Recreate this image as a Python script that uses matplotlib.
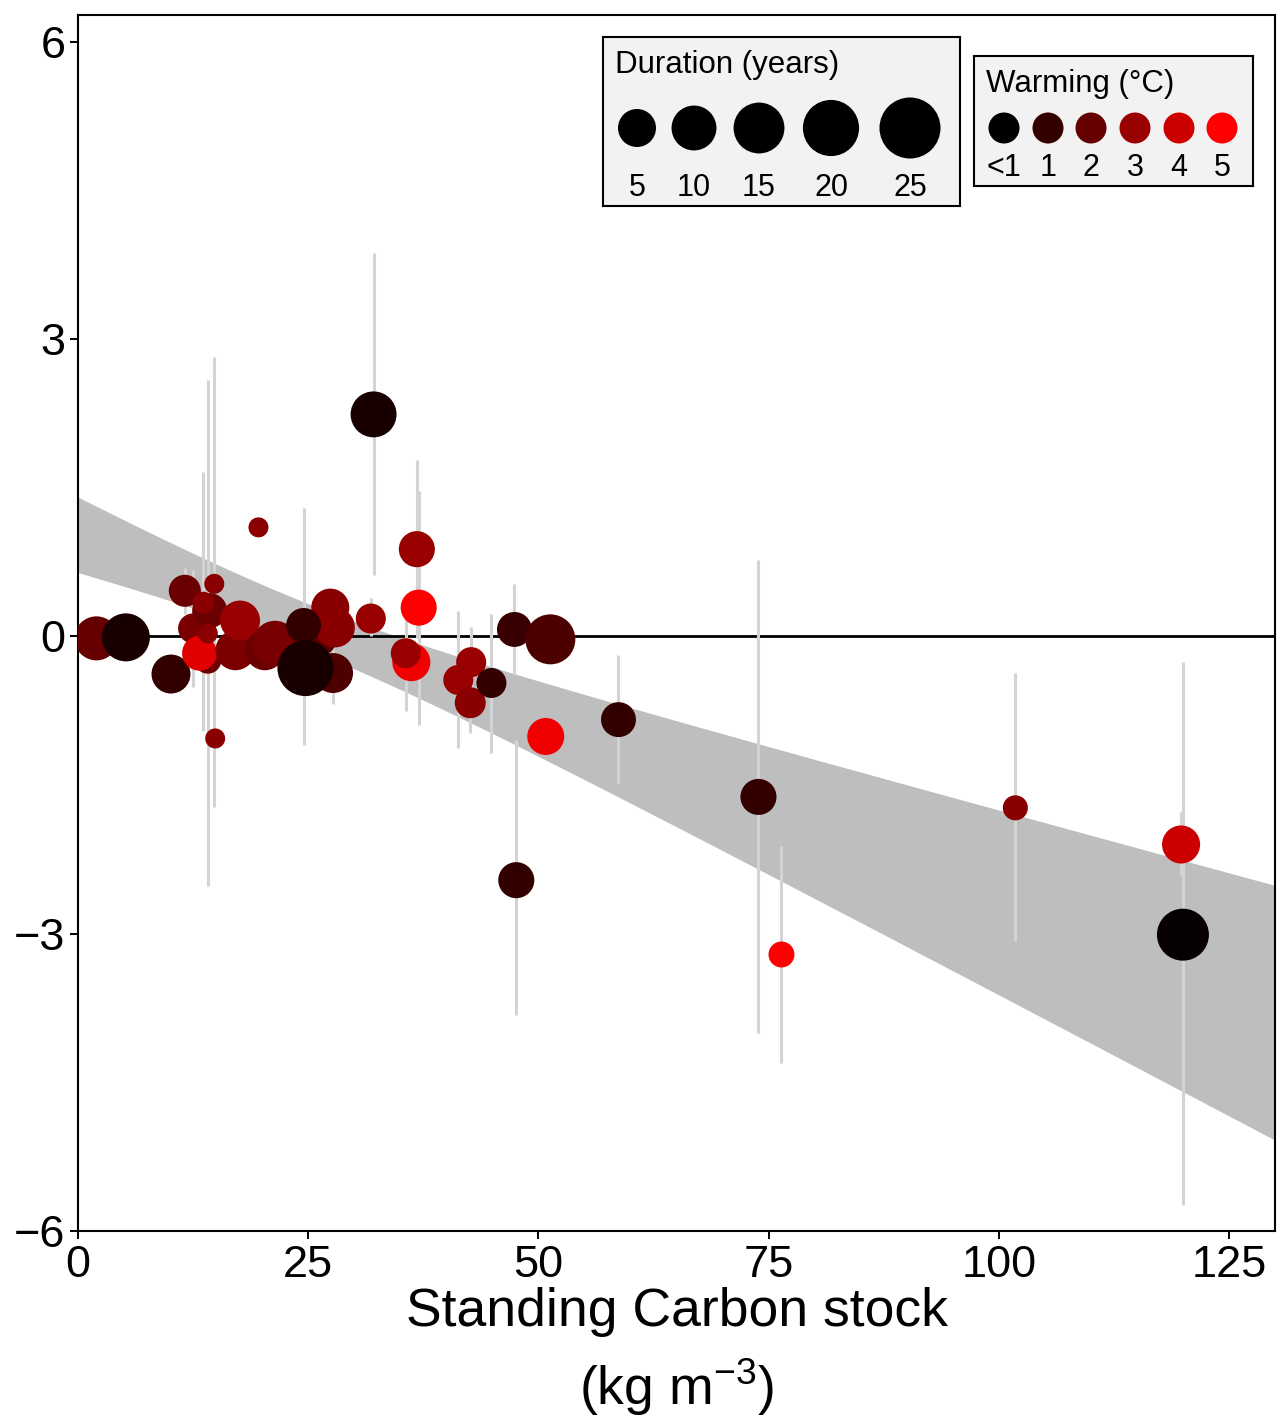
import numpy as np
import matplotlib
matplotlib.use("Agg")
import matplotlib.pyplot as plt
from matplotlib.colors import LinearSegmentedColormap, Normalize

plt.rcParams['font.family'] = ['Liberation Sans', 'DejaVu Sans']
plt.rcParams['mathtext.fontset'] = 'custom'
plt.rcParams['mathtext.rm'] = 'Liberation Sans'
plt.rcParams['mathtext.default'] = 'regular'

# data, in drawing order
carbon = [2.0, 5.2, 10.1, 11.6, 12.5, 14.1, 14.3, 13.2, 14.1, 13.6, 14.8,
          17.1, 17.6, 20.3, 21.4, 26.4, 27.4, 27.9, 27.7, 24.5, 24.7,
          31.8, 19.6, 14.9, 32.1, 36.8, 37.0, 36.2, 35.6, 42.7, 41.3,
          42.6, 44.9, 47.4, 51.3, 50.8, 58.7, 47.6, 73.9, 76.4, 101.8,
          119.8, 120.0]
effect = [-0.02, -0.01, -0.38, 0.46, 0.08, -0.24, 0.26, -0.17, 0.03, 0.34, 0.53,
          -0.14, 0.16, -0.14, -0.07, -0.04, 0.29, 0.09, -0.37, 0.11, -0.32,
          0.18, 1.10, -1.03, 2.24, 0.88, 0.29, -0.26, -0.17, -0.26, -0.44,
          -0.67, -0.47, 0.07, -0.03, -1.01, -0.84, -2.46, -1.62, -3.21, -1.73,
          -2.10, -3.01]
err_lo = [np.nan, np.nan, np.nan, 0.23, -0.51, np.nan, np.nan, np.nan, -2.52, -0.95, -1.72,
          np.nan, np.nan, np.nan, np.nan, np.nan, np.nan, np.nan, -0.68, -1.10, np.nan,
          0.00, np.nan, np.nan, 0.62, -0.02, -0.89, np.nan, -0.75, -0.61, -1.13,
          -0.97, -1.18, -0.39, np.nan, np.nan, -1.48, -3.82, -4.00, -4.30, -3.07,
          -2.42, -5.74]
err_hi = [np.nan, np.nan, np.nan, 0.69, 0.67, np.nan, np.nan, np.nan, 2.59, 1.66, 2.82,
          np.nan, np.nan, np.nan, np.nan, np.nan, np.nan, np.nan, -0.06, 1.30, np.nan,
          0.39, np.nan, np.nan, 3.87, 1.78, 1.47, np.nan, 0.41, 0.09, 0.26,
          -0.37, 0.23, 0.53, np.nan, np.nan, -0.19, -1.05, 0.77, -2.12, -0.37,
          -1.77, -0.26]
duration = [14.5, 17.7, 10.8, 6.5, 5.4, 3.9, 8.2, 8.2, 1.0, 1.7, 1.0,
            11.5, 11.5, 11.5, 15.3, 5.4, 10.2, 11.5, 11.5, 8.2, 25.0,
            5.4, 1.0, 1.0, 16.0, 8.9, 8.9, 10.2, 5.4, 5.4, 5.4,
            5.9, 5.4, 8.2, 19.4, 9.5, 8.2, 8.9, 8.9, 3.4, 3.0,
            10.2, 21.2]
warming = [2.0, 0.5, 1.0, 2.1, 2.4, 2.1, 2.1, 4.4, 2.7, 2.7, 2.7,
           2.4, 3.0, 2.1, 2.35, 1.75, 2.7, 2.7, 1.5, 1.0, 0.5,
           3.0, 2.7, 2.7, 0.5, 3.0, 5.0, 4.7, 3.0, 3.0, 3.0,
           2.7, 1.0, 1.1, 1.5, 4.7, 1.0, 1.0, 1.0, 5.0, 2.7,
           4.0, 0.15]

# fitted line and confidence band
fit_b0, fit_b1 = 1.025, -0.0371
ci_h0, ci_k, ci_xm = 0.233, 1.45e-4, 25.0

legend_durations = [5, 10, 15, 20, 25]
legend_warming = [0, 1, 2, 3, 4, 5]
legend_warming_labels = ['<1', '1', '2', '3', '4', '5']

cmap = LinearSegmentedColormap.from_list('warm', ['#000000', '#ff0000'])
norm = Normalize(0, 5)
PX = 0.72  # points per pixel at dpi 100


def size_data(d):
    return (286 + 114 * np.asarray(d)) * PX ** 2


def size_legend(d):
    return (875 + 114 * np.asarray(d)) * PX ** 2


W, H = 1278, 1421
fig = plt.figure(figsize=(W / 100, H / 100), dpi=100)
ax = fig.add_axes([78 / W, (H - 1231) / H, (1275 - 78) / W, (1231 - 15) / H])

xg = np.linspace(0, 130, 300)
centre = fit_b0 + fit_b1 * xg
half = np.sqrt(ci_h0 ** 2 + ci_k * (xg - ci_xm) ** 2)
ax.fill_between(xg, centre - half, centre + half, color='#bebebe', lw=0, zorder=1)

ax.axhline(0, color='black', lw=2.0, zorder=2)

x = np.array(carbon)
lo = np.array(err_lo)
hi = np.array(err_hi)
m = ~np.isnan(lo)
ax.vlines(x[m], lo[m], hi[m], color='#d3d3d3', lw=2.2, zorder=3)

ax.scatter(carbon, effect, s=size_data(duration), c=cmap(norm(warming)),
           linewidths=0, zorder=4)

ax.set_xlim(0, 130)
ax.set_ylim(-6, 6.27)
ax.set_xticks([0, 25, 50, 75, 100, 125])
ax.set_yticks([-6, -3, 0, 3, 6])
ax.tick_params(labelsize=32.5, length=6, width=1.4, color='black', pad=3)
ax.tick_params(axis='x', pad=4)
for s in ax.spines.values():
    s.set_linewidth(1.5)
ax.set_xlabel('Standing Carbon stock\n(kg m$^{-3}$)', fontsize=38.5, linespacing=1.4,
              labelpad=1)

# duration legend
lg1 = fig.add_axes([603 / W, (H - 206) / H, 357 / W, 169 / H])
lg1.set_xlim(603, 960)
lg1.set_ylim(206, 37)
lg1.set_facecolor('#f2f2f2')
lg1.set_xticks([])
lg1.set_yticks([])
for s in lg1.spines.values():
    s.set_linewidth(1.5)
lg1.text(615, 65, 'Duration (years)', fontsize=22.5, va='center', ha='left')
lx1 = [637, 694, 759, 831, 910]
lg1.scatter(lx1, [128] * 5, s=size_legend(legend_durations), c='black', linewidths=0)
for xx, d in zip(lx1, legend_durations):
    lg1.text(xx, 188, str(d), fontsize=22, ha='center', va='center')

# warming legend
lg2 = fig.add_axes([974 / W, (H - 186) / H, 279 / W, 130 / H])
lg2.set_xlim(974, 1253)
lg2.set_ylim(186, 56)
lg2.set_facecolor('#f2f2f2')
lg2.set_xticks([])
lg2.set_yticks([])
for s in lg2.spines.values():
    s.set_linewidth(1.5)
lg2.text(986, 84, 'Warming (°C)', fontsize=22.5, va='center', ha='left')
lx2 = [1004, 1048, 1091, 1135, 1179, 1222]
lg2.scatter(lx2, [128] * 6, s=(31 * PX) ** 2, c=cmap(norm(legend_warming)), linewidths=0)
for xx, t in zip(lx2, legend_warming_labels):
    lg2.text(xx, 168, t, fontsize=22, ha='center', va='center')

fig.savefig('out.png', dpi=100)
